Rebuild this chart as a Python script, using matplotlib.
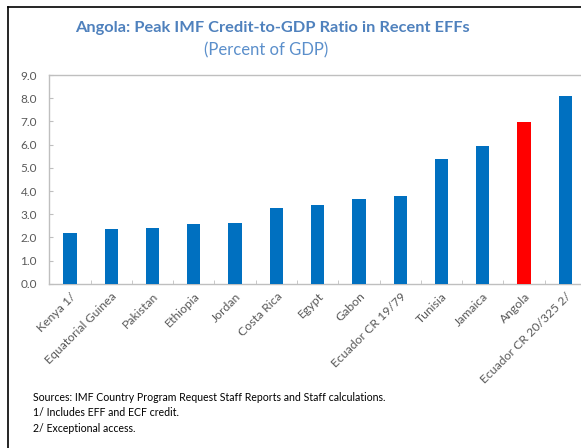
import numpy as np
import matplotlib.pyplot as plt
from matplotlib.lines import Line2D

plt.rcParams['font.family'] = ['Lato', 'DejaVu Sans']

# Data
countries = ['Kenya 1/', 'Equatorial Guinea', 'Pakistan', 'Ethiopia', 'Jordan',
             'Costa Rica', 'Egypt', 'Gabon', 'Ecuador CR 19/79', 'Tunisia',
             'Jamaica', 'Angola', 'Ecuador CR 20/325 2/']
peak_ratio = [2.19, 2.38, 2.42, 2.56, 2.62, 3.28, 3.41, 3.65, 3.80, 5.40, 5.93, 6.98, 8.11]
yticks = [0, 1, 2, 3, 4, 5, 6, 7, 8, 9]

blue = '#0070C0'
red = '#FF0000'
grey = '#595959'
axis_grey = '#BFBFBF'

fig = plt.figure(figsize=(5.81, 4.48), dpi=100)
W, H = 581, 448
left, right, top, bottom = 49.3, 586, 75, 283.8
ax = fig.add_axes([left / W, 1 - bottom / H, (right - left) / W, (bottom - top) / H])

x = np.arange(len(countries))
colors = [red if c == 'Angola' else blue for c in countries]
ax.bar(x, peak_ratio, width=0.32, color=colors, zorder=3)

ax.set_xlim(-0.5, len(countries) - 0.5)
ax.set_ylim(0, 9)
ax.set_yticks(yticks)
ax.set_yticklabels([f'{v:.1f}' for v in yticks], fontsize=8.5, color=grey)
ax.tick_params(axis='y', direction='in', length=3, color=axis_grey, pad=9)

# category labels at centers, tick marks at boundaries
ax.set_xticks(x)
ax.set_xticklabels(countries, rotation=45, ha='right', rotation_mode='anchor',
                   fontsize=8.8, color=grey)
ax.tick_params(axis='x', which='major', length=0, pad=5)
ax.set_xticks(np.arange(len(countries) - 1) + 0.5, minor=True)
ax.tick_params(axis='x', which='minor', direction='in', length=3, color=axis_grey)

for s in ax.spines.values():
    s.set_color(axis_grey)
    s.set_linewidth(1.0)

# titles
fig.text(272 / W, 1 - 28 / H, 'Angola: Peak IMF Credit-to-GDP Ratio in Recent EFFs',
         ha='center', va='center', fontsize=11.8, fontweight='bold', color='#4F81BD')
fig.text(266 / W, 1 - 50 / H, '(Percent of GDP)', ha='center', va='center',
         fontsize=12, color='#5B8FCB')

# notes
notes = ['Sources: IMF Country Program Request Staff Reports and Staff calculations.',
         '1/ Includes EFF and ECF credit.',
         '2/ Exceptional access.']
for i, n in enumerate(notes):
    fig.text(33 / W, 1 - (397 + i * 15.7) / H, n, ha='left', va='center',
             fontsize=7.6, color='black')

# frame border (top and left edges visible)
fig.add_artist(Line2D([8 / W, 8 / W], [0, 1 - 7 / H], transform=fig.transFigure,
                      color='black', lw=1.2))
fig.add_artist(Line2D([8 / W, 1], [1 - 7 / H, 1 - 7 / H], transform=fig.transFigure,
                      color='black', lw=1.2))

fig.savefig('out.png', dpi=100)
